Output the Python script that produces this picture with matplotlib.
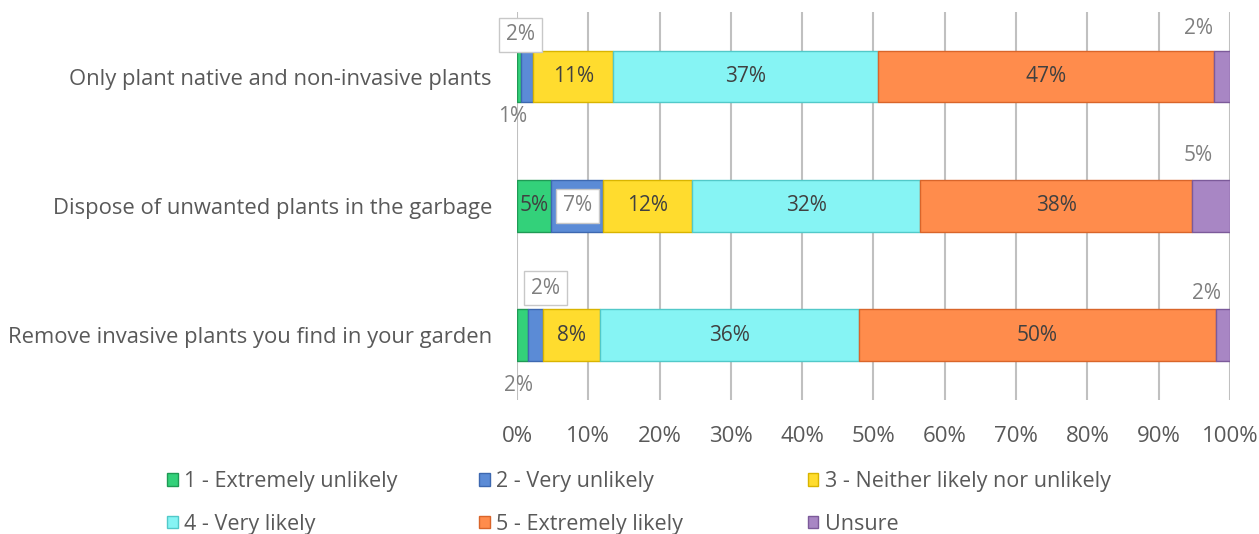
import matplotlib.pyplot as plt
import numpy as np
from matplotlib import rcParams

rcParams['font.family'] = ['Open Sans', 'DejaVu Sans']

# data
categories = ['Only plant native and non-invasive plants',
              'Dispose of unwanted plants in the garbage',
              'Remove invasive plants you find in your garden']
series = ['1 - Extremely unlikely', '2 - Very unlikely',
          '3 - Neither likely nor unlikely', '4 - Very likely',
          '5 - Extremely likely', 'Unsure']
values = np.array([
    [0.6, 1.7, 11.2, 37.2, 47.0, 2.3],
    [4.8, 7.3, 12.4, 32.1, 38.1, 5.3],
    [1.6, 2.1, 8.0, 36.3, 50.0, 2.0],
])
colors = ['#33d17a', '#5b8bd6', '#ffdc2e', '#86f4f4', '#ff8c4c', '#a886c4']
edges = ['#1f9a55', '#3d68b0', '#d9b400', '#52c9c9', '#d9652a', '#7c5a9a']

TXT = '#595959'
LBL = '#404040'
GRID = '#c0c0c0'

fig = plt.figure(figsize=(12.59, 5.34), dpi=100)
ax = fig.add_axes([0.4106, 0.251, 0.5663, 0.7266])

y = np.arange(len(categories))
left = np.zeros(len(categories))
for j, name in enumerate(series):
    ax.barh(y, values[:, j], left=left, height=0.4, color=colors[j],
            edgecolor=edges[j], linewidth=1, label=name, zorder=3)
    left += values[:, j]

# label placement for the thin segments: (row, col) -> (dx, dy, boxed) in points
outside = {
    (0, 0): (-5, -29, False), (0, 1): (-5, 30, True), (0, 5): (-17, 35, False),
    (1, 1): (0, 0, True), (1, 5): (-9, 36, False),
    (2, 0): (-3, -36, False), (2, 1): (7, 34, True), (2, 5): (-12, 30, False),
}
starts = np.cumsum(values, axis=1) - values
for i in range(len(categories)):
    for j in range(len(series)):
        v = values[i, j]
        cx = starts[i, j] + v / 2
        txt = f'{round(v)}%'
        if (i, j) in outside:
            dx, dy, boxed = outside[(i, j)]
            bbox = dict(boxstyle='square,pad=0.33', fc='white', ec='#c8c8c8', lw=1) if boxed else None
            ax.annotate(txt, (cx, i), xytext=(dx, dy), textcoords='offset points',
                        ha='center', va='center', fontsize=15, color='#7f7f7f',
                        bbox=bbox, zorder=5)
        else:
            ax.text(cx, i, txt, ha='center', va='center', fontsize=15,
                    color=LBL, zorder=5)

ax.set_xlim(0, 100)
ax.set_ylim(2.5, -0.5)
ax.set_xticks(np.arange(0, 101, 10))
ax.set_xticklabels([f'{t}%' for t in range(0, 101, 10)])
ax.set_yticks(y)
ax.set_yticklabels(categories)
ax.tick_params(axis='x', length=0, pad=19, labelsize=16, colors=TXT)
ax.tick_params(axis='y', length=0, pad=18, labelsize=15.8, colors=TXT)
ax.grid(axis='x', color=GRID, linewidth=1.5, zorder=0)
for s in ax.spines.values():
    s.set_visible(False)

# legend: three columns, placed one by one
h, l = ax.get_legend_handles_labels()
col_x = [0.124, 0.372, 0.633]
for c, x0 in enumerate(col_x):
    fig.legend([h[c], h[c + 3]], [l[c], l[c + 3]], loc='center left',
               bbox_to_anchor=(x0, 0.058), frameon=False, borderpad=0,
               fontsize=15.5, labelcolor=TXT, handlelength=0.5, handleheight=0.5,
               handletextpad=0.3, labelspacing=1.0)

fig.savefig('out.png', dpi=100)
